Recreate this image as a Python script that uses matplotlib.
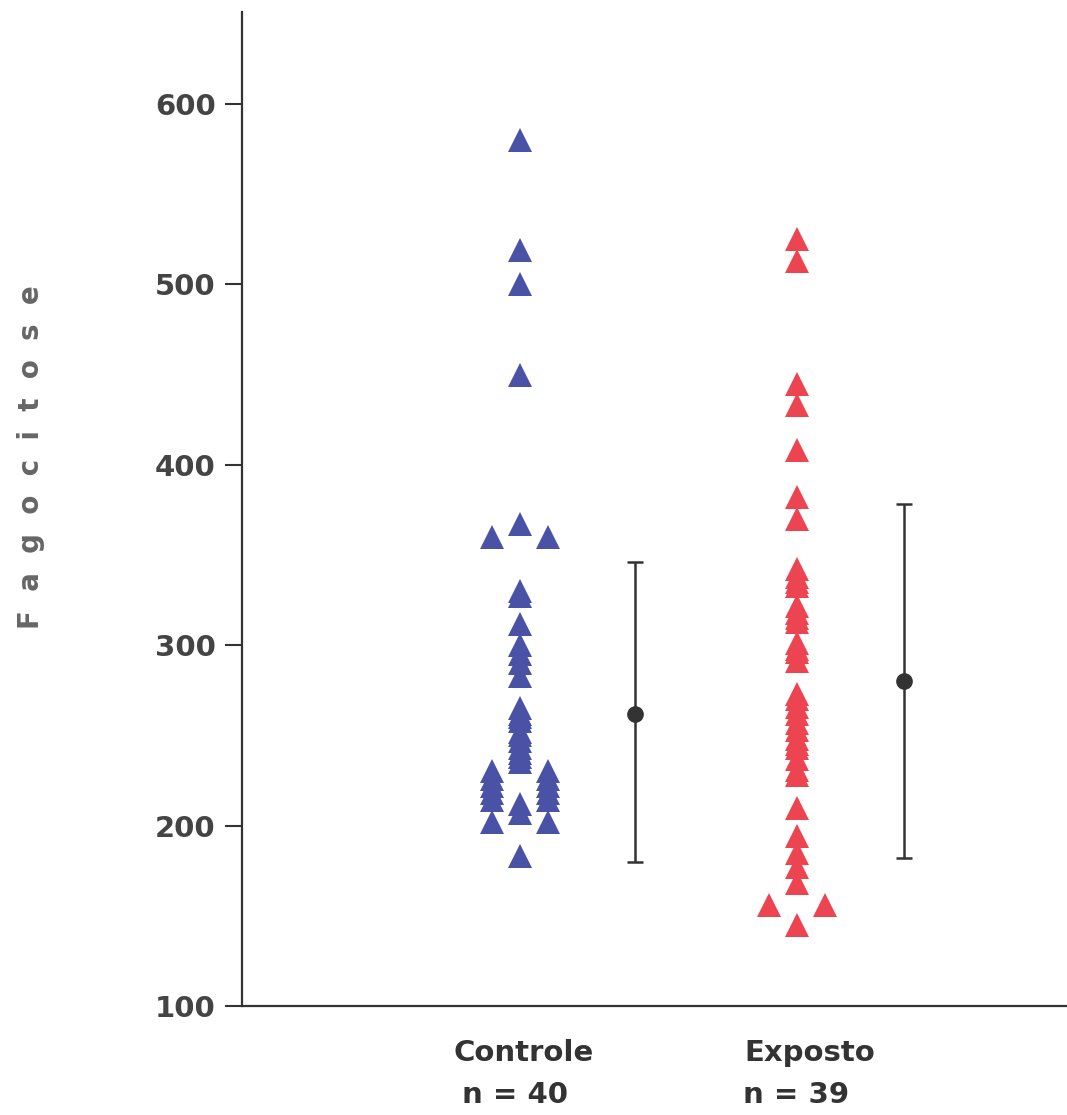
import matplotlib
matplotlib.use("Agg")
import matplotlib.pyplot as plt
import numpy as np

# ---- data ----
groups = ["Controle", "Exposto"]
group_n = ["n = 40", "n = 39"]

ctrl_center = [580, 519, 500, 450, 367, 330, 327, 312, 300, 295, 290, 283,
               265, 262, 260, 258, 252, 250, 247, 243, 240, 238, 235,
               212, 207, 183]
ctrl_left = [360, 230, 226, 222, 218, 214, 202]
ctrl_right = [360, 230, 226, 222, 218, 214, 202]

expo_center = [525, 513, 445, 433, 408, 382, 370, 342, 338, 335, 333, 322,
               318, 315, 313, 301, 298, 296, 291, 273, 270, 266, 262, 257,
               253, 248, 245, 243, 237, 231, 228, 210, 194, 185, 177, 168, 145]
expo_left = [156]
expo_right = [156]

summary_mean = [262, 280]
summary_low = [180, 182]
summary_high = [346, 378]

yticks = [100, 200, 300, 400, 500, 600]

# ---- figure ----
W, H = 1067, 1115
fig = plt.figure(figsize=(W / 100, H / 100), dpi=100)
ax = fig.add_axes([242 / W, (H - 1006) / H, (W - 242) / W, (1006 - 12) / H])

blue = "#4a52a6"
red = "#ec4450"
dark = "#333333"
font = "DejaVu Sans"

xpos = np.array([1.0, 2.0])
side = 0.102
err_off = np.array([0.415, 0.386])
ms = 17

def plot_col(x, vals, color):
    ax.plot(np.full(len(vals), x), vals, linestyle="none", marker="^",
            markersize=ms, color=color, markeredgewidth=0)

plot_col(xpos[0], ctrl_center, blue)
plot_col(xpos[0] - side, ctrl_left, blue)
plot_col(xpos[0] + side, ctrl_right, blue)
plot_col(xpos[1], expo_center, red)
plot_col(xpos[1] - side, expo_left, red)
plot_col(xpos[1] + side, expo_right, red)

mean = np.array(summary_mean)
lo = mean - np.array(summary_low)
hi = np.array(summary_high) - mean
ax.errorbar(xpos + err_off, mean, yerr=[lo, hi], fmt="o", color=dark,
            ecolor=dark, elinewidth=1.8, capsize=6, capthick=1.8,
            markersize=11)

ax.set_xlim(1 - 278 / 277, 2 + 270 / 277)
ax.set_ylim(100, 651)
ax.set_yticks(yticks)
ax.set_yticklabels([str(t) for t in yticks], fontsize=21, fontweight="bold",
                   color="#444444", family=font)
ax.tick_params(axis="y", length=12, width=1.5, color=dark, pad=7,
               direction="out")
ax.set_xticks([])
for s in ["top", "right"]:
    ax.spines[s].set_visible(False)
for s in ["left", "bottom"]:
    ax.spines[s].set_linewidth(1.6)
    ax.spines[s].set_color(dark)

# category labels in figure pixel coords
lbl_x = [(524, 810), (515, 796)]
for i in range(2):
    fig.text(lbl_x[0][i] / W, 1 - 1053 / H, groups[i], ha="center", va="center",
             fontsize=21, fontweight="bold", color="#333333", family=font)
    fig.text(lbl_x[1][i] / W, 1 - 1095 / H, group_n[i], ha="center", va="center",
             fontsize=21, fontweight="bold", color="#333333", family=font)

fig.text(31 / W, 1 - 457 / H, "  ".join("Fagocitose"), rotation=90,
         ha="center", va="center", fontsize=20, fontweight="bold",
         color="#666666", family=font)

fig.savefig("out.png", dpi=100, facecolor="white")
